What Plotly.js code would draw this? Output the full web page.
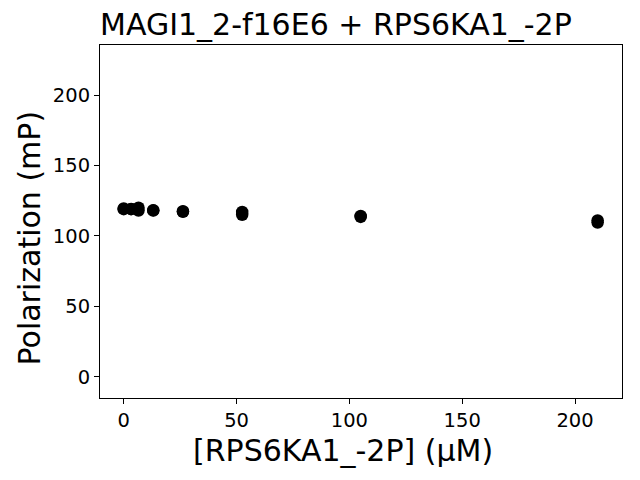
<!DOCTYPE html>
<html><head><meta charset="utf-8">
<script src="https://cdn.plot.ly/plotly-3.0.1.min.js"></script>
<style>html,body{margin:0;padding:0;background:#fff}#plot{width:640px;height:480px}</style>
</head><body><div id="plot"></div>
<script>
const concentrations = [0, 0, 3.28, 3.28, 6.56, 6.56, 13.1, 13.1, 26.25, 26.25, 52.5, 52.5, 105, 105, 210, 210];
const polarization = [119.5, 119, 119, 119.2, 120, 118, 118.3, 118, 117.5, 117.2, 117, 115, 114.2, 113.5, 111, 109.5];
const titleText = "MAGI1_2-f16E6 + RPS6KA1_-2P";
const xLabel = "[RPS6KA1_-2P] (μM)";
const yLabel = "Polarization (mP)";
const xTicks = [0, 50, 100, 150, 200];
const yTicks = [0, 50, 100, 150, 200];

Plotly.newPlot('plot', [{
  x: concentrations, y: polarization, type: 'scatter', mode: 'markers',
  marker: {color: '#000', size: 12.5}
}], {
  width: 640, height: 480,
  margin: {l: 100, r: 18, t: 45, b: 82},
  font: {family: 'DejaVu Sans', color: '#000'},
  title: {text: titleText, font: {size: 30}, x: 100/640, xanchor: 'left', y: 1 - 24/480, yanchor: 'middle'},
  xaxis: {range: [-10.5, 220.8], tickvals: xTicks, ticks: 'outside', ticklen: 5, tickcolor: '#000',
    showgrid: false, zeroline: false, showline: true, linecolor: '#000', mirror: true, linewidth: 1,
    tickfont: {size: 19.5}},
  yaxis: {range: [-15, 235.5], tickvals: yTicks, ticks: 'outside', ticklen: 5, tickcolor: '#000',
    showgrid: false, zeroline: false, showline: true, linecolor: '#000', mirror: true, linewidth: 1,
    tickfont: {size: 19.5}},
  annotations: [
    {text: xLabel, xref: 'paper', yref: 'paper', x: (343 - 100) / 522, y: (398 - 450) / 353,
     xanchor: 'center', yanchor: 'middle', showarrow: false, font: {size: 30}},
    {text: yLabel, xref: 'paper', yref: 'paper', x: (29 - 100) / 522, y: (398 - 238.5) / 353,
     xanchor: 'center', yanchor: 'middle', textangle: -90, showarrow: false, font: {size: 30}}
  ],
  showlegend: false, plot_bgcolor: '#fff', paper_bgcolor: '#fff'
}, {displayModeBar: false});
</script></body></html>
